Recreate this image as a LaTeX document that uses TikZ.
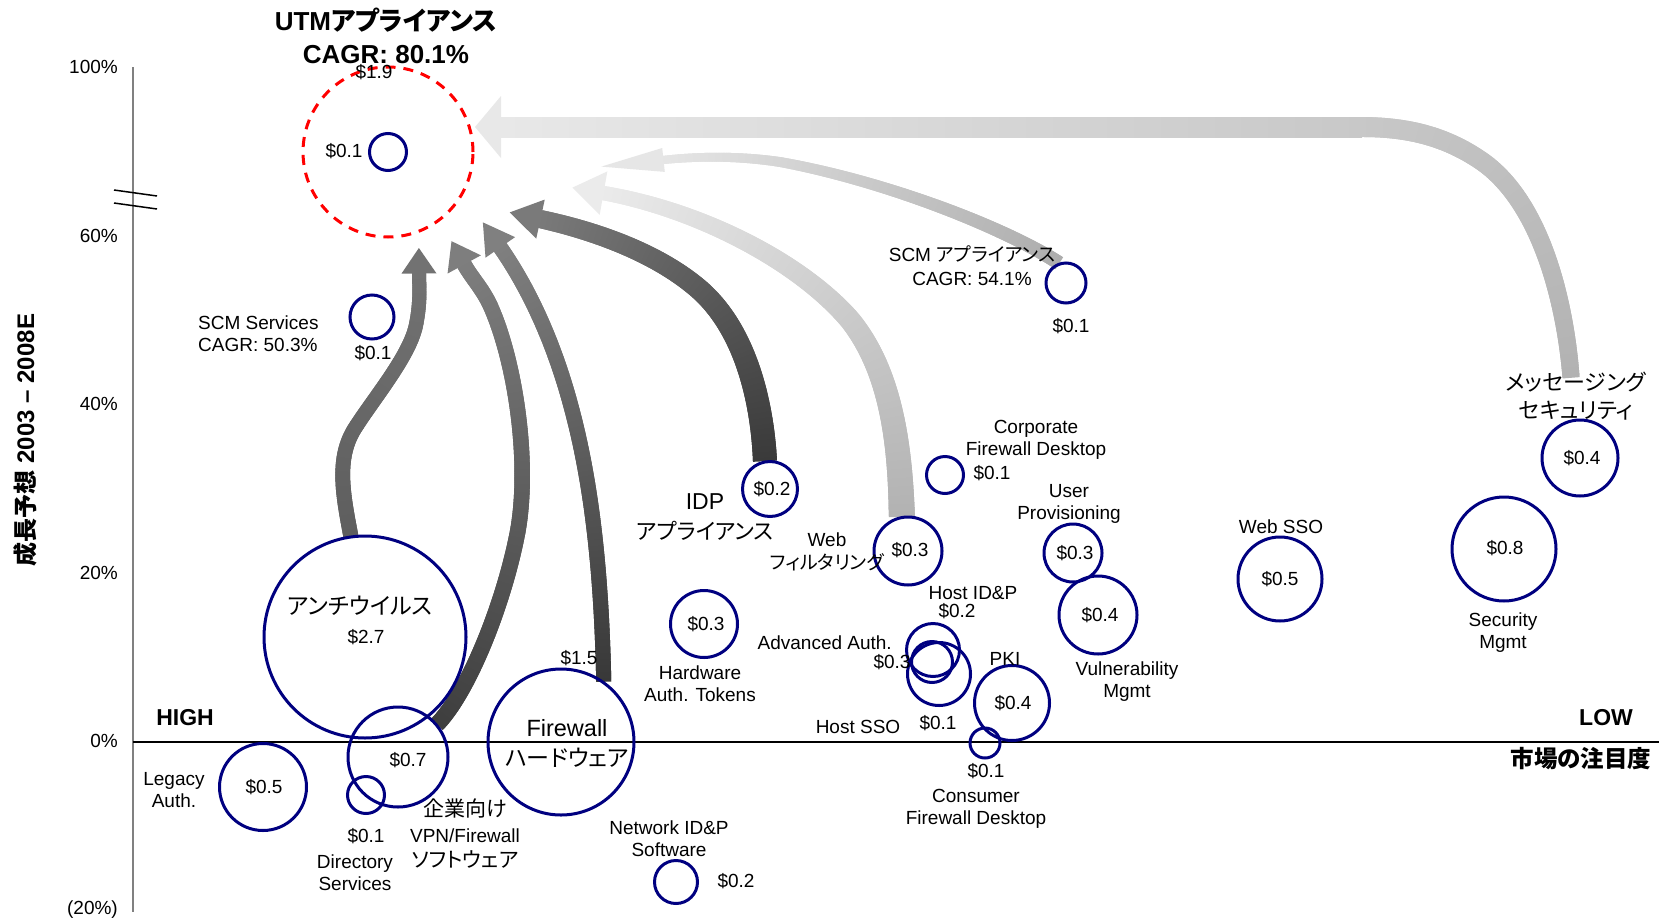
\documentclass[tikz,border=0pt]{standalone}
\usepackage{fontspec}
\setmainfont{Liberation Sans}
\newfontfamily\jp{Noto Sans CJK JP}[RawFeature={+palt}]
\usetikzlibrary{decorations.markings}
\pgfdeclarelayer{paper}
\pgfdeclarelayer{arrows}
\pgfsetlayers{paper,arrows,main}

\definecolor{navyc}{HTML}{000080}
\definecolor{utmred}{HTML}{FF0000}
\definecolor{axgray}{HTML}{808080}
\definecolor{gAa}{HTML}{B2B2B2}\definecolor{gAm}{HTML}{C8C8C8}\definecolor{gAb}{HTML}{E8E8E8}
\definecolor{gBa}{HTML}{ADADAD}\definecolor{gBb}{HTML}{E6E6E6}
\definecolor{gCa}{HTML}{B2B2B2}\definecolor{gCb}{HTML}{EBEBEB}
\definecolor{gDa}{HTML}{3A3A3A}\definecolor{gDb}{HTML}{7A7A7A}
\definecolor{gEa}{HTML}{383838}\definecolor{gEb}{HTML}{808080}
\definecolor{gFa}{HTML}{3E3E3E}\definecolor{gFb}{HTML}{7E7E7E}
\definecolor{gGa}{HTML}{5E5E5E}\definecolor{gGb}{HTML}{727272}

% shaded body: #1 tail colour, #2 end colour, #3 tail width, #4 end width, #5 path
\newcommand\gradbody[5]{%
  \path[decorate,decoration={markings,
    mark=between positions 0 and 1 step 0.7pt with {%
      \pgfmathsetmacro\gpos{min(1,max(0,(\pgfkeysvalueof{/pgf/decoration/mark info/sequence number}-1)*0.7/\pgfdecoratedpathlength))}%
      \pgfmathsetmacro\gpct{100*\gpos}%
      \pgfmathsetlengthmacro\ghw{(#3+(#4-#3)*\gpos)/2}%
      \fill[#2!\gpct!#1] (-0.8pt,-\ghw) rectangle (0.8pt,\ghw);}}]
  #5;}
% head at the end of a path: #1 colour, #2 length, #3 half width, #4 path
\newcommand\gradhead[4]{%
  \path[decorate,decoration={markings,
    mark=at position -0.5pt with {\fill[#1] (#2pt+0.5pt,0pt) -- (0pt,#3pt) -- (0pt,-#3pt) -- cycle;}}]
  #4;}
\newcommand\gradarrow[7]{\gradbody{#1}{#2}{#3}{#4}{#7}\gradhead{#2}{#5}{#6}{#7}}

\tikzset{
  bub/.style={circle, draw=navyc, line width=3pt, inner sep=0pt},
  lbl/.style={font=\fontsize{19}{22}\selectfont, align=center, inner sep=0pt},
  axl/.style={font=\fontsize{19}{22}\selectfont, anchor=east, inner sep=0pt},
  bigl/.style={font=\bfseries\fontsize{23}{28}\selectfont, inner sep=0pt},
}

\begin{document}
\begin{tikzpicture}[x=1pt,y=-1pt]
\begin{pgfonlayer}{paper}
\fill[white] (0,0) rectangle (1659,921);
\end{pgfonlayer}
\useasboundingbox (0,0) rectangle (1659,921);

% ---------- axes ----------
\coordinate (axtop) at (133,67);
\coordinate (axbot) at (133,912);
\coordinate (hx0) at (133,742);
\coordinate (hx1) at (1659,742);
\draw[axgray, line width=2pt] (axtop) -- (axbot);
\draw[black, line width=1.2pt] (hx0) -- (hx1);
\coordinate (br1a) at (114,190); \coordinate (br1b) at (157,196);
\coordinate (br2a) at (114,203); \coordinate (br2b) at (157,209);
\draw[black, line width=1.5pt] (br1a) -- (br1b);
\draw[black, line width=1.5pt] (br2a) -- (br2b);

\node[axl] (y100) at (118,67) {100\%};
\node[axl] (y60) at (118,236) {60\%};
\node[axl] (y40) at (118,404) {40\%};
\node[axl] (y20) at (118,573) {20\%};
\node[axl] (y0) at (118,741) {0\%};
\node[axl] (ym20) at (118,910) {(20\%)};

\node[rotate=90, font=\bfseries\fontsize{24}{28}\selectfont, inner sep=0pt] (ytitle) at (25,440) {{\jp 成長予想} 2003 – 2008E};

\node[bigl] (high) at (185,718) {HIGH};
\node[bigl] (low) at (1606,718) {LOW};
\node[font=\bfseries\jp\fontsize{23.5}{28}\selectfont, inner sep=0pt] (xtitle) at (1581,759) {市場の注目度};

% ---------- bubbles ----------
\node[circle, draw=utmred, line width=3pt, dash pattern=on 10pt off 8pt, minimum size=170pt, inner sep=0pt] (utm) at (388,152) {};
\node[bub, minimum size=37pt] (utmin) at (388,152) {};
\node[bub, minimum size=44pt] (scms) at (372,317) {};
\node[bub, minimum size=202pt] (av) at (365,637) {};
\node[bub, minimum size=100pt] (vpn) at (398,757) {};
\node[bub, minimum size=37pt] (dir) at (366,795) {};
\node[bub, minimum size=87pt] (leg) at (263,787) {};
\node[bub, minimum size=146pt] (fw) at (561,742) {};
\node[bub, minimum size=43pt] (nidp) at (676,882) {};
\node[bub, minimum size=67pt] (hat) at (704,624) {};
\node[bub, minimum size=55pt] (idp) at (770,489) {};
\node[bub, minimum size=68pt] (web) at (908,551) {};
\node[bub, minimum size=37pt] (corp) at (945,475) {};
\node[bub, minimum size=40pt] (scma) at (1066,283) {};
\node[bub, minimum size=58pt] (user) at (1073,553) {};
\node[bub, minimum size=78pt] (vul) at (1098,615) {};
\node[bub, minimum size=53pt] (hidp) at (933,650) {};
\node[bub, minimum size=41pt] (adv) at (932,662) {};
\node[bub, minimum size=63pt] (hsso) at (939,674) {};
\node[bub, minimum size=75pt] (pki) at (1012,703) {};
\node[bub, minimum size=30pt] (cons) at (985,743) {};
\node[bub, minimum size=84pt] (wsso) at (1280,579) {};
\node[bub, minimum size=104pt] (sec) at (1504,549) {};
\node[bub, minimum size=76pt] (msg) at (1580,458) {};

% ---------- arrows (on a layer below the bubbles) ----------
\coordinate (msgtail) at (1571,377);
\coordinate (msgbend) at (1360,127);
\coordinate (msghead) at (501,127);
\coordinate (msgbarA) at (501,117);
\coordinate (msgbarB) at (1362,137);
\coordinate (msgtip) at (475,127);
\coordinate (msgbarbA) at (501,96);
\coordinate (msgbarbB) at (501,158);
\coordinate (scmhead) at (663,160);
\coordinate (webhead) at (603,193);
\coordinate (idphead) at (540,219);
\coordinate (fwhead) at (500,247);
\coordinate (vpnhead) at (464,264);
\coordinate (avhead) at (419,273);

\begin{pgfonlayer}{arrows}
\gradbody{gAa}{gAm}{17}{20}{(msgtail) .. controls (1565,300) and (1540,200) .. (1480,160) .. controls (1440,133) and (1400,127) .. (msgbend)}
\shade[left color=gAb, right color=gAm] (msgbarA) rectangle (msgbarB);
\fill[gAb] (msgtip) -- (msgbarbA) -- (msgbarbB) -- cycle;
\gradarrow{gBa}{gBb}{14}{8}{62}{12}{(scma.110) .. controls (1000,225) and (880,180) .. (780,162) .. controls (740,156) and (700,156) .. (scmhead)}
\gradarrow{gCa}{gCb}{26}{14}{31}{22}{(web.100) .. controls (900,440) and (890,370) .. (850,320) .. controls (800,262) and (700,210) .. (webhead)}
\gradarrow{gDa}{gDb}{24}{18}{31}{20}{(idp.100) .. controls (762,400) and (745,330) .. (700,290) .. controls (660,255) and (600,232) .. (idphead)}
\gradarrow{gEa}{gEb}{15}{15}{30}{18}{(fw.55) .. controls (602,600) and (596,500) .. (572,410) .. controls (555,345) and (530,290) .. (fwhead)}
\gradarrow{gFa}{gFb}{16}{15}{26}{19}{(vpn.40) .. controls (470,690) and (505,600) .. (518,530) .. controls (530,460) and (515,360) .. (490,305) .. controls (482,288) and (471,277) .. (vpnhead)}
\gradarrow{gGa}{gGb}{15}{14}{25}{17.5}{(av.98) .. controls (342,490) and (336,455) .. (357,425) .. controls (375,397) and (410,355) .. (416,325) .. controls (421,300) and (419,285) .. (avhead)}
\end{pgfonlayer}

% ---------- labels ----------
\node[font=\bfseries\fontsize{26}{33}\selectfont, align=center, inner sep=0pt] (title) at (386,36) {UTM{\jp アプライアンス}\\CAGR: 80.1\%};
\node[lbl] (v19) at (374,72) {\$1.9};
\node[lbl] (vutm) at (344,151) {\$0.1};
\node[lbl, align=left, anchor=west] (lscms) at (198,334) {SCM Services\\CAGR: 50.3\%};
\node[lbl] (vscms) at (373,353) {\$0.1};
\node[lbl] (lav) at (360,606) {\jp\fontsize{23}{26}\selectfont アンチウイルス};
\node[lbl] (vav) at (366,637) {\$2.7};
\node[lbl] (vvpn) at (408,760) {\$0.7};
\node[lbl] (vdir) at (366,836) {\$0.1};
\node[lbl] (ldir) at (355,873) {Directory\\Services};
\node[lbl, font=\fontsize{19}{25.5}\selectfont] (lvpn) at (465,834) {{\jp\fontsize{21}{25.5}\selectfont 企業向け}\\VPN/Firewall\\{\jp\fontsize{21}{25.5}\selectfont ソフトウェア}};
\node[lbl] (lleg) at (174,790) {Legacy\\Auth.};
\node[lbl] (vleg) at (264,787) {\$0.5};
\node[lbl, font=\fontsize{23.5}{30}\selectfont] (lfw) at (567,743) {Firewall\\{\jp\fontsize{23}{30}\selectfont ハードウェア}};
\node[lbl] (vfw) at (579,658) {\$1.5};
\node[lbl] (lnidp) at (669,839) {Network ID\&P\\Software};
\node[lbl] (vnidp) at (736,881) {\$0.2};
\node[lbl] (vhat) at (706,624) {\$0.3};
\node[lbl] (lhat) at (700,684) {Hardware\\Auth. Tokens};
\node[lbl] (vidp) at (772,489) {\$0.2};
\node[lbl, font=\fontsize{23}{30}\selectfont] (lidp) at (705,517) {IDP\\{\jp\fontsize{22}{30}\selectfont アプライアンス}};
\node[lbl] (vweb) at (910,550) {\$0.3};
\node[lbl, font=\fontsize{19}{23}\selectfont] (lweb) at (827,552) {Web\\{\jp\fontsize{19}{23}\selectfont フィルタリング}};
\node[lbl] (vcorp) at (992,473) {\$0.1};
\node[lbl] (lcorp) at (1036,440) {Corporate\\Firewall Desktop};
\node[lbl, font=\fontsize{19}{24}\selectfont] (lscma) at (972,266) {SCM {\jp アプライアンス}\\CAGR: 54.1\%};
\node[lbl] (vscma) at (1071,326) {\$0.1};
\node[lbl] (luser) at (1069,504) {User\\Provisioning};
\node[lbl] (vuser) at (1075,553) {\$0.3};
\node[lbl] (vvul) at (1100,615) {\$0.4};
\node[lbl] (lvul) at (1127,682) {Vulnerability\\Mgmt};
\node[lbl] (lhidp) at (973,593) {Host ID\&P};
\node[lbl] (vhidp) at (957,611) {\$0.2};
\node[lbl, anchor=east] (ladv) at (892,643) {Advanced Auth.};
\node[lbl] (vadv) at (892,662) {\$0.3};
\node[lbl] (lhsso) at (858,727) {Host SSO};
\node[lbl] (vhsso) at (938,723) {\$0.1};
\node[lbl] (lpki) at (1005,659) {PKI};
\node[lbl] (vpki) at (1013,703) {\$0.4};
\node[lbl] (vcons) at (986,771) {\$0.1};
\node[lbl] (lcons) at (976,809) {Consumer\\Firewall Desktop};
\node[lbl] (lwsso) at (1281,527) {Web SSO};
\node[lbl] (vwsso) at (1280,579) {\$0.5};
\node[lbl] (vsec) at (1505,548) {\$0.8};
\node[lbl] (lsec) at (1503,633) {Security\\Mgmt};
\node[lbl] (vmsg) at (1582,458) {\$0.4};
\node[lbl, font=\jp\fontsize{22}{28}\selectfont] (lmsg) at (1576,396) {メッセージング\\セキュリティ};
\end{tikzpicture}
\end{document}
